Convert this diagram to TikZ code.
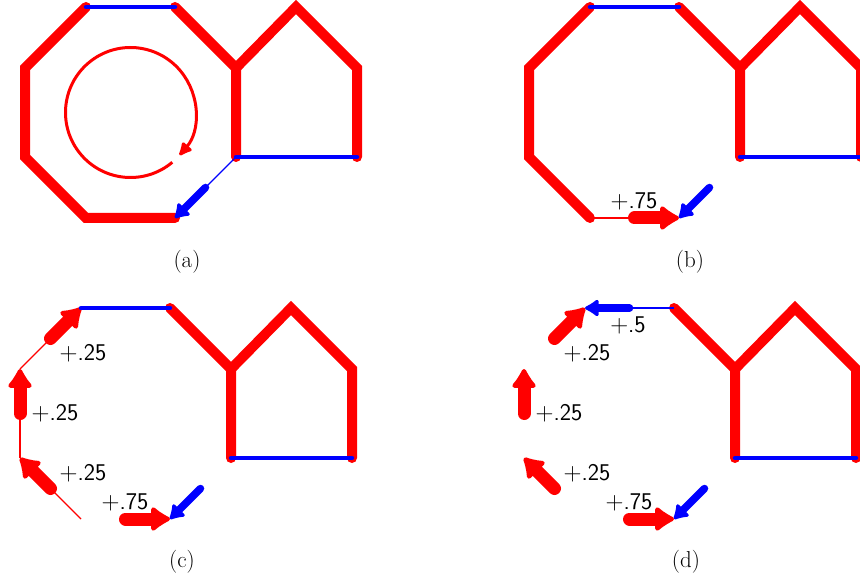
\documentclass[tikz,border=0pt]{standalone}
\usetikzlibrary{arrows.meta,calc}
\begin{document}
\begin{tikzpicture}[x=1pt,y=-1pt,
  edge/.style={red, line width=10pt, line cap=round},
  bedge/.style={blue, line width=4.5pt, line cap=round},
  thinr/.style={red, line width=1.3pt},
  thinb/.style={blue, line width=1.3pt},
  rarrow/.style={red, line width=13pt, line cap=round, -{Latex[round, length=22pt, width=30pt]}},
  barrow/.style={blue, line width=7.5pt, line cap=round, -{Latex[round, length=16pt, width=21pt]}},
  lab/.style={font=\fontsize{24}{28}\selectfont\sffamily, inner sep=0pt},
  capt/.style={font=\fontsize{23}{27}\selectfont, inner sep=0pt}]
\useasboundingbox (0,0) rectangle (860,580);
\newcommand\defgeom{%
  \coordinate (o1) at (86,7);
  \coordinate (o2) at (175,7);
  \coordinate (o3) at (236,68);
  \coordinate (o4) at (236,157);
  \coordinate (o5) at (175,218);
  \coordinate (o6) at (86,218);
  \coordinate (o7) at (25,157);
  \coordinate (o8) at (25,68);
  \coordinate (hp) at (296,7);
  \coordinate (hr) at (357,68);
  \coordinate (hb) at (357,157);
  \coordinate (ctr) at (130.5,112.5);
  \coordinate (m12) at ($(o1)!0.5!(o2)$);
  \coordinate (m45) at ($(o4)!0.5!(o5)$);
  \coordinate (m56) at ($(o5)!0.5!(o6)$);
  \coordinate (m67) at ($(o6)!0.5!(o7)$);
  \coordinate (m78) at ($(o7)!0.5!(o8)$);
  \coordinate (m81) at ($(o8)!0.5!(o1)$);
}
\newcommand\commonparts{%
  \draw[edge] (o2) -- (o3) -- (o4);
  \draw[edge] (o3) -- (hp) -- (hr) -- (hb);
  \draw[bedge] (o4) -- (hb);
  \draw[barrow] (m45) -- (o5);
}
% ---------- (a)
\begin{scope}
  \defgeom
  \draw[edge] (o5) -- (o6) -- (o7) -- (o8) -- (o1);
  \commonparts
  \draw[bedge] (o1) -- (o2);
  \draw[thinb] (o4) -- (m45);
  \draw[red, line width=3pt, -{Latex[round, length=16pt, width=15pt]}]
    (ctr) ++(50:65) arc[start angle=50, end angle=401, radius=65];
\end{scope}
% ---------- (b)
\begin{scope}[shift={(504,0)}]
  \defgeom
  \draw[edge] (o6) -- (o7) -- (o8) -- (o1);
  \commonparts
  \draw[bedge] (o1) -- (o2);
  \draw[thinr] (o6) -- (m56);
  \draw[rarrow] (m56) -- (o5);
  \node[lab] (lb1) at (130,201) {$+$.75};
\end{scope}
% ---------- (c)
\begin{scope}[shift={(-5,301)}]
  \defgeom
  \commonparts
  \draw[thinr] (o6) -- (m67);
  \draw[thinr] (o7) -- (m78);
  \draw[thinr] (o8) -- (m81);
  \draw[rarrow] (m67) -- (o7);
  \draw[rarrow] (m78) -- (o8);
  \draw[rarrow] (m81) -- (o1);
  \draw[rarrow] (m56) -- (o5);
  \draw[bedge] (o1) -- (o2);
  \node[lab] (lc1) at (88,52) {$+$.25};
  \node[lab] (lc2) at (60,112) {$+$.25};
  \node[lab] (lc3) at (88,172) {$+$.25};
  \node[lab] (lc4) at (130,201) {$+$.75};
\end{scope}
% ---------- (d)
\begin{scope}[shift={(499,301)}]
  \defgeom
  \commonparts
  \draw[rarrow] (m67) -- (o7);
  \draw[rarrow] (m78) -- (o8);
  \draw[rarrow] (m81) -- (o1);
  \draw[rarrow] (m56) -- (o5);
  \draw[thinb] (o2) -- (m12);
  \draw[barrow] (m12) -- (o1);
  \node[lab] (ld0) at (129,24) {$+$.5};
  \node[lab] (ld1) at (88,52) {$+$.25};
  \node[lab] (ld2) at (60,112) {$+$.25};
  \node[lab] (ld3) at (88,172) {$+$.25};
  \node[lab] (ld4) at (130,201) {$+$.75};
\end{scope}
\node[capt] (capa) at (187,262) {(a)};
\node[capt] (capb) at (690,262) {(b)};
\node[capt] (capc) at (182,562) {(c)};
\node[capt] (capd) at (686,562) {(d)};
\end{tikzpicture}
\end{document}
